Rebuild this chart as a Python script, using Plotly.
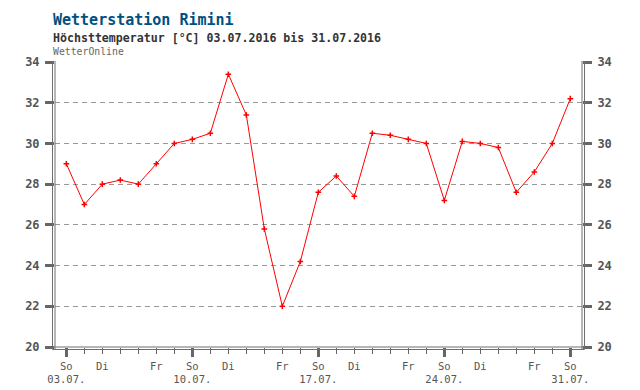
import plotly.graph_objects as go

days = ["03.07.", "04.07.", "05.07.", "06.07.", "07.07.", "08.07.", "09.07.",
        "10.07.", "11.07.", "12.07.", "13.07.", "14.07.", "15.07.", "16.07.",
        "17.07.", "18.07.", "19.07.", "20.07.", "21.07.", "22.07.", "23.07.",
        "24.07.", "25.07.", "26.07.", "27.07.", "28.07.", "29.07.", "30.07.", "31.07."]
weekdays = ["So", "Mo", "Di", "Mi", "Do", "Fr", "Sa"]
tmax = [29.0, 27.0, 28.0, 28.2, 28.0, 29.0, 30.0,
        30.2, 30.5, 33.4, 31.4, 25.8, 22.0, 24.2,
        27.6, 28.4, 27.4, 30.5, 30.4, 30.2, 30.0,
        27.2, 30.1, 30.0, 29.8, 27.6, 28.6, 30.0, 32.2]
y_ticks = [20, 22, 24, 26, 28, 30, 32, 34]
labeled_weekdays = ["So", "Di", "Fr"]

idx = list(range(len(days)))
wd = [weekdays[i % 7] for i in idx]
lab_vals = [i for i in idx if wd[i] in labeled_weekdays]
lab_text = [(wd[i] + "<br>" + days[i]) if wd[i] == "So" else wd[i] for i in lab_vals]
sundays = [i for i in idx if wd[i] == "So"]

L, R, T, B = 55, 58, 62, 43
W, H = 640, 390
pw, ph = W - L - R, H - T - B

FONT = "DejaVu Sans Mono"
AX = "#666666"

fig = go.Figure()
fig.add_trace(go.Scatter(
    x=idx, y=tmax, mode="lines+markers",
    line=dict(color="#ff0000", width=1),
    marker=dict(symbol="cross-thin", size=4, color="#ff0000",
                line=dict(color="#ff0000", width=1.5)),
    hoverinfo="skip", showlegend=False))
fig.add_trace(go.Scatter(x=[idx[0]], y=[tmax[0]], yaxis="y2", xaxis="x2",
                         mode="markers", marker=dict(opacity=0),
                         hoverinfo="skip", showlegend=False))

xr = [-0.63, 28.65]
fig.update_layout(
    width=W, height=H,
    margin=dict(l=L, r=R, t=T, b=B, pad=0, autoexpand=False),
    paper_bgcolor="white", plot_bgcolor="white",
    xaxis=dict(range=xr, tickmode="array", tickvals=idx,
               ticktext=[(lab_text[lab_vals.index(i)] if i in lab_vals else "") for i in idx],
               ticks="outside", ticklen=6, tickwidth=1, tickcolor=AX,
               ticklabelstandoff=3, automargin=False,
               showgrid=False, zeroline=False, showline=False,
               tickfont=dict(family=FONT, size=10.5, color="#555555")),
    xaxis2=dict(range=xr, overlaying="x", tickmode="array", tickvals=sundays,
                ticktext=["" for _ in sundays], side="bottom", automargin=False,
                ticks="outside", ticklen=9, tickwidth=3, tickcolor=AX,
                showgrid=False, zeroline=False, showline=False),
    yaxis=dict(range=[20, 34], tickmode="array", tickvals=y_ticks,
               ticks="outside", ticklen=9, tickwidth=3, tickcolor=AX,
               ticklabelstandoff=3, automargin=False,
               showgrid=True, gridcolor="#999999", griddash="5px,4px", gridwidth=1,
               zeroline=False, showline=False,
               tickfont=dict(family=FONT, size=12, color="#555555", weight="bold")),
    yaxis2=dict(range=[20, 34], overlaying="y", side="right", tickmode="array",
                tickvals=y_ticks, anchor="x", automargin=False,
                ticks="outside", ticklen=9, tickwidth=3, tickcolor=AX,
                ticklabelstandoff=3,
                showgrid=False, zeroline=False, showline=False,
                tickfont=dict(family=FONT, size=12, color="#555555", weight="bold")),
)

def px_x(p):
    return (p - L) / pw

def px_y(p):
    return 1 - (p - T) / ph

frame = dict(color="#6e6e6e", width=1)
shapes = []
for xp in (52.5, 55):
    shapes.append(dict(type="line", xref="paper", yref="paper",
                       x0=px_x(xp), x1=px_x(xp), y0=px_y(61), y1=px_y(349.5), line=frame, layer="above"))
for xp in (582, 584.5):
    shapes.append(dict(type="line", xref="paper", yref="paper",
                       x0=px_x(xp), x1=px_x(xp), y0=px_y(61), y1=px_y(349.5), line=frame, layer="above"))
for yp in (347, 349.5):
    shapes.append(dict(type="line", xref="paper", yref="paper",
                       x0=px_x(52.5), x1=px_x(584.5), y0=px_y(yp), y1=px_y(yp), line=frame, layer="above"))
fig.update_layout(shapes=shapes)

fig.add_annotation(text="<b>Wetterstation Rimini</b>", xref="paper", yref="paper",
                   x=px_x(51), y=px_y(20), xanchor="left", yanchor="middle", showarrow=False,
                   font=dict(family=FONT, size=15, color="#00507f"))
fig.add_annotation(text="<b>Höchsttemperatur [°C] 03.07.2016 bis 31.07.2016</b>", xref="paper", yref="paper",
                   x=px_x(51), y=px_y(38), xanchor="left", yanchor="middle", showarrow=False,
                   font=dict(family=FONT, size=11.6, color="#333333"))
fig.add_annotation(text="WetterOnline", xref="paper", yref="paper",
                   x=px_x(51), y=px_y(51), xanchor="left", yanchor="middle", showarrow=False,
                   font=dict(family=FONT, size=9.8, color="#666666"))

fig.write_html("out.html", config={"displayModeBar": False},
               post_script="document.body.style.margin='0px';document.body.style.padding='0px';")
